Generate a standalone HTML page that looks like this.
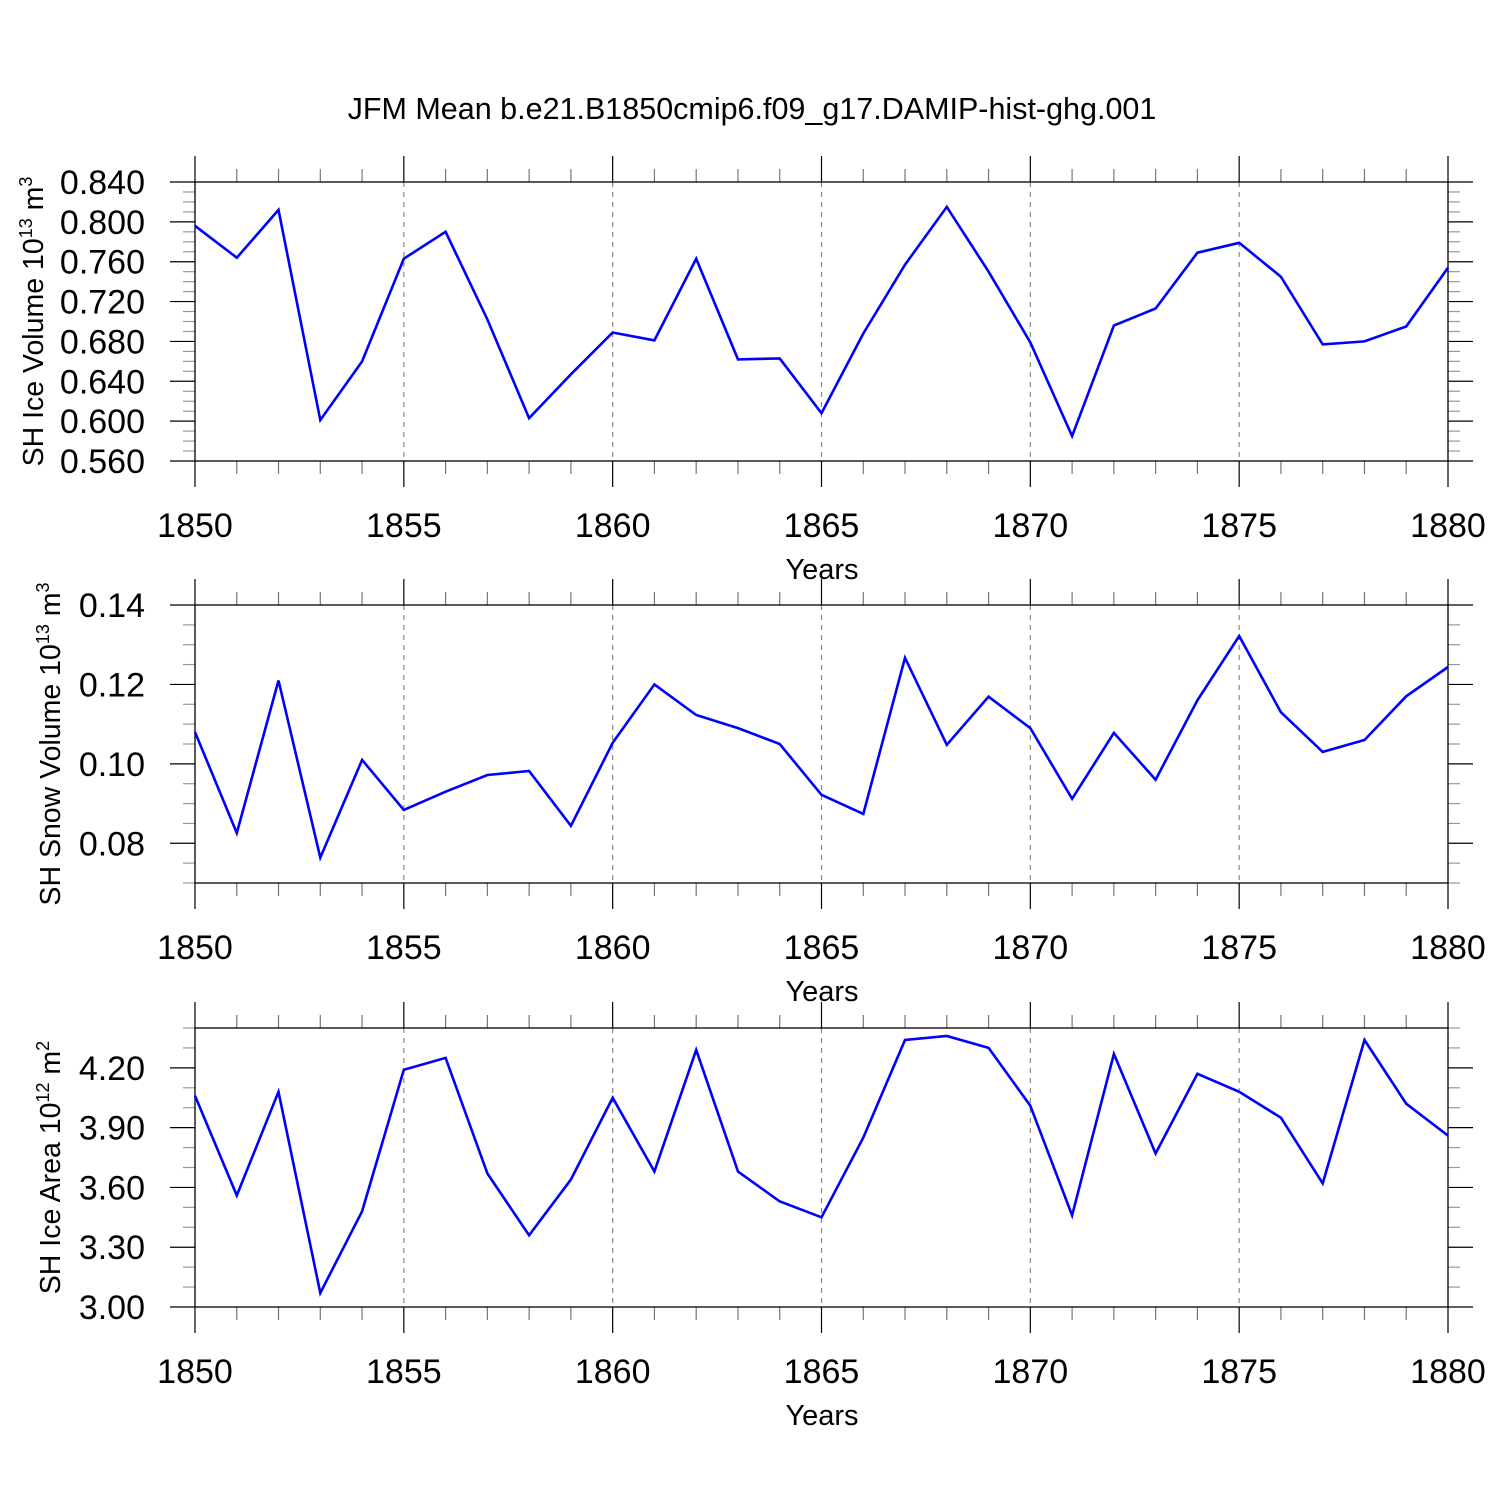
<!DOCTYPE html>
<html><head><meta charset="utf-8">
<style>
html,body{margin:0;padding:0;background:#fff;}
svg{display:block;font-family:"Liberation Sans",sans-serif;}
</style></head>
<body>
<svg id="chart" width="1500" height="1500" viewBox="0 0 1500 1500">
<text x="752" y="119" font-size="30.5" text-anchor="middle">JFM Mean b.e21.B1850cmip6.f09_g17.DAMIP-hist-ghg.001</text>
</svg>
<script>
const years = [1850,1851,1852,1853,1854,1855,1856,1857,1858,1859,1860,1861,1862,1863,1864,1865,1866,1867,1868,1869,1870,1871,1872,1873,1874,1875,1876,1877,1878,1879,1880];
const iceVolume = [0.796,0.764,0.812,0.601,0.660,0.763,0.790,0.702,0.603,0.647,0.689,0.681,0.763,0.662,0.663,0.608,0.688,0.757,0.815,0.750,0.679,0.585,0.696,0.713,0.769,0.779,0.745,0.677,0.680,0.695,0.754];
const snowVolume = [0.108,0.0826,0.121,0.0764,0.101,0.0884,0.0930,0.0972,0.0982,0.0844,0.1053,0.120,0.1123,0.109,0.105,0.0922,0.0874,0.1267,0.1048,0.1169,0.109,0.0912,0.1078,0.096,0.116,0.1322,0.113,0.103,0.106,0.117,0.1244];
const iceArea = [4.06,3.56,4.08,3.07,3.48,4.19,4.25,3.67,3.36,3.64,4.05,3.68,4.29,3.68,3.53,3.45,3.85,4.34,4.36,4.30,4.01,3.46,4.27,3.77,4.17,4.08,3.95,3.62,4.34,4.02,3.86];
const xTickLabels = ["1850","1855","1860","1865","1870","1875","1880"];
const iceVolTicks = ["0.840","0.800","0.760","0.720","0.680","0.640","0.600","0.560"];
const snowTicks = ["0.14","0.12","0.10","0.08"];
const areaTicks = ["4.20","3.90","3.60","3.30","3.00"];

const NS = "http://www.w3.org/2000/svg";
const svg = document.getElementById('chart');
const X0 = 195, X1 = 1448, YR0 = 1850, YR1 = 1880;
function xs(yr){ return X0 + (yr - YR0) / (YR1 - YR0) * (X1 - X0); }
function mk(tag, attrs, parent){
  const e = document.createElementNS(NS, tag);
  for (const k in attrs) e.setAttribute(k, attrs[k]);
  (parent || svg).appendChild(e);
  return e;
}

const panels = [
  {key:'ice-volume', top:182, bot:461, min:0.56, max:0.84, minor:0.01, data:iceVolume, ticks:iceVolTicks, titleX:33, title:'SH Ice Volume 10', sup:'13', unit:'3'},
  {key:'snow-volume', top:605, bot:883, min:0.07, max:0.14, minor:0.005, data:snowVolume, ticks:snowTicks, titleX:50, title:'SH Snow Volume 10', sup:'13', unit:'3'},
  {key:'ice-area', top:1028, bot:1307, min:3.0, max:4.4, minor:0.1, data:iceArea, ticks:areaTicks, titleX:50, title:'SH Ice Area 10', sup:'12', unit:'2'}
];

panels.forEach(p => {
  const g = mk('g', {});
  
  
  const ys = v => p.bot - (v - p.min) / (p.max - p.min) * (p.bot - p.top);
  for (let yr = 1855; yr <= 1875; yr += 5) {
    const l = mk('line', {x1:xs(yr), x2:xs(yr), y1:p.top, y2:p.bot, stroke:'#888', 'stroke-width':1.2, 'stroke-dasharray':'5,5'}, g);
    
    
  }
  const nMinor = Math.round((p.max - p.min) / p.minor);
  const majorVals = p.ticks.map(Number);
  for (let i = 0; i <= nMinor; i++) {
    const v = p.min + i * p.minor;
    const isMajor = majorVals.some(m => Math.abs(m - v) < p.minor / 10);
    const y = ys(v);
    const len = isMajor ? 25 : 12;
    mk('line', {x1:X0 - len, x2:X0, y1:y, y2:y, stroke: isMajor ? '#000' : '#999', 'stroke-width':1.2}, g);
    mk('line', {x1:X1, x2:X1 + len, y1:y, y2:y, stroke: isMajor ? '#000' : '#999', 'stroke-width':1.2}, g);
  }
  p.ticks.forEach(t => {
    const tx = mk('text', {x:145, y:ys(Number(t)) + 12, 'font-size':34, 'text-anchor':'end'}, g);
    tx.textContent = t;
    
    
  });
  for (let yr = YR0; yr <= YR1; yr++) {
    const major = (yr % 5 === 0);
    const len = major ? 26 : 13;
    const c = major ? '#000' : '#777';
    mk('line', {x1:xs(yr), x2:xs(yr), y1:p.top - len, y2:p.top, stroke:c, 'stroke-width':1.2}, g);
    mk('line', {x1:xs(yr), x2:xs(yr), y1:p.bot, y2:p.bot + len, stroke:c, 'stroke-width':1.2}, g);
  }
  xTickLabels.forEach(t => {
    const tx = mk('text', {x:xs(Number(t)), y:p.bot + 76, 'font-size':34, 'text-anchor':'middle'}, g);
    tx.textContent = t;
    
    
  });
  const r = mk('rect', {x:X0, y:p.top, width:X1 - X0, height:p.bot - p.top, fill:'none', stroke:'#000', 'stroke-width':1.3}, g);
  
  
  const xt = mk('text', {x:822, y:p.bot + 118, 'font-size':29, 'text-anchor':'middle'}, g);
  xt.textContent = 'Years';
  
  
  const cy = (p.top + p.bot) / 2;
  const yt = mk('text', {x:0, y:0, 'font-size':28.5, 'text-anchor':'middle', transform:'translate(' + (p.titleX + 10) + ',' + cy + ') rotate(-90)'}, g);
  
  
  yt.appendChild(document.createTextNode(p.title));
  const s1 = mk('tspan', {dy:-11, 'font-size':18}, yt); s1.textContent = p.sup;
  const s2 = mk('tspan', {dy:11, 'font-size':28.5}, yt); s2.textContent = ' m';
  const s3 = mk('tspan', {dy:-11, 'font-size':18}, yt); s3.textContent = p.unit;
  const pts = years.map((yr, i) => xs(yr).toFixed(1) + ',' + ys(p.data[i]).toFixed(1)).join(' ');
  const pl = mk('polyline', {points:pts, fill:'none', stroke:'#0000ff', 'stroke-width':2.6, 'stroke-linejoin':'miter'}, g);
  
  
});
</script>
</body></html>
